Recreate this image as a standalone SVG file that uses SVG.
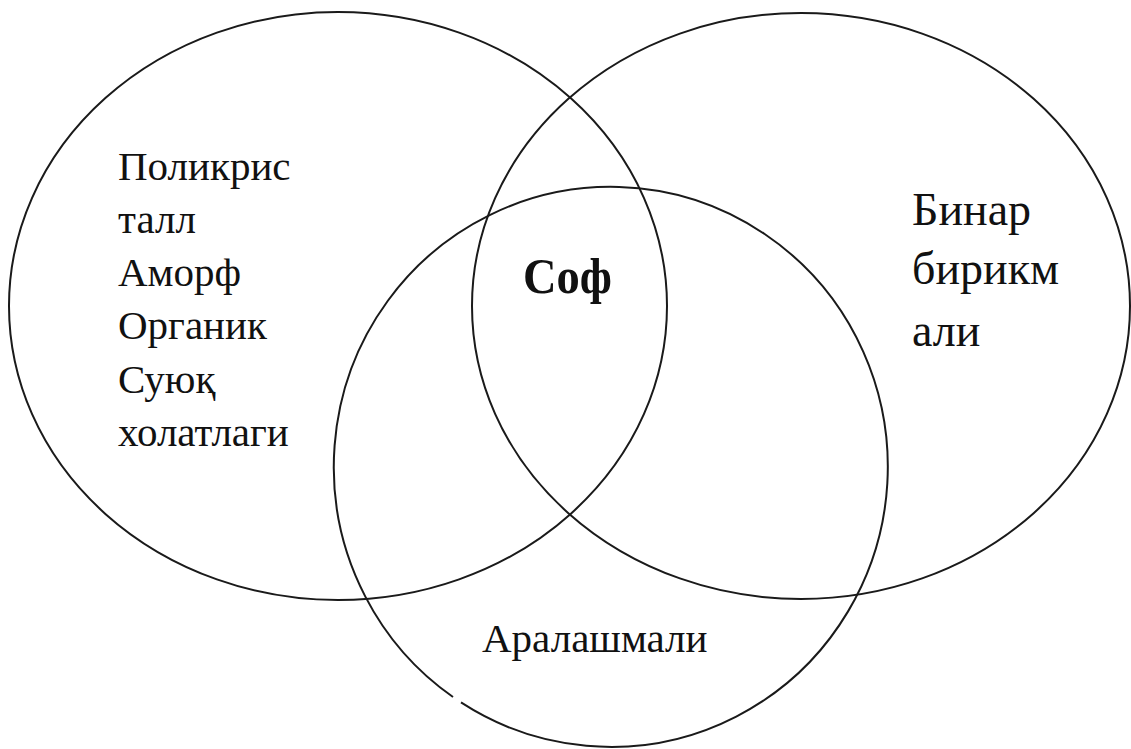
<svg xmlns="http://www.w3.org/2000/svg" width="1131" height="749" viewBox="0 0 1131 749">
<style>
.c{fill:none;stroke:#1a1a1a;stroke-width:2}
.t{font-family:'Liberation Serif','Times New Roman',serif;font-size:41px;fill:#111}
.b{font-family:'Liberation Serif','Times New Roman',serif;font-size:46px;fill:#111}
.s{font-family:'Liberation Serif','Times New Roman',serif;font-size:50px;font-weight:bold;fill:#111}
</style>
<rect width="1131" height="749" fill="#fff"/>
<g id="connectors"></g>
<g id="left">
<ellipse class="c" cx="338" cy="306" rx="329" ry="294"/>
<text class="t" x="118" y="180" font-family="Liberation Serif, serif">Поликрис</text>
<text class="t" x="118" y="233" font-family="Liberation Serif, serif">талл</text>
<text class="t" x="118" y="286" font-family="Liberation Serif, serif">Аморф</text>
<text class="t" x="118" y="339" font-family="Liberation Serif, serif">Органик</text>
<text class="t" x="118" y="393" font-family="Liberation Serif, serif">Суюқ</text>
<text class="t" x="118" y="446" font-family="Liberation Serif, serif">холатлаги</text>
</g>
<g id="right">
<ellipse class="c" cx="801" cy="306" rx="329" ry="293"/>
<text class="b" x="912" y="225" font-family="Liberation Serif, serif">Бинар</text>
<text class="b" x="912" y="284" font-family="Liberation Serif, serif">бирикм</text>
<text class="b" x="912" y="346" font-family="Liberation Serif, serif">али</text>
</g>
<g id="bottom">
<path class="c" d="M 453 697 A 277 280 0 1 1 461 702.4"/>
<text class="t" x="482" y="652" font-family="Liberation Serif, serif">Аралашмали</text>
</g>
<g id="center">
<text class="s" x="523" y="293" font-family="Liberation Serif, serif" textLength="89" lengthAdjust="spacingAndGlyphs">Соф</text>
</g>
</svg>
